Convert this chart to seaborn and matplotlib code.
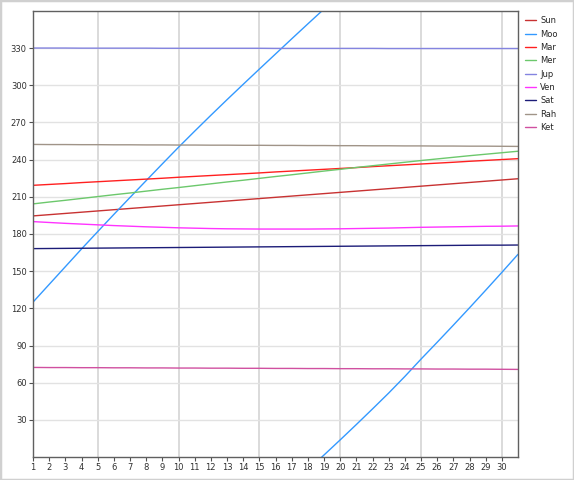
import numpy as np
import pandas as pd
import matplotlib
matplotlib.use("Agg")
import matplotlib.pyplot as plt
import seaborn as sns
from matplotlib.patches import Rectangle

days = list(range(1, 32))

sun = [194.6, 195.6, 196.6, 197.6, 198.6, 199.6, 200.6, 201.6, 202.6, 203.6,
       204.6, 205.6, 206.6, 207.6, 208.6, 209.6, 210.6, 211.6, 212.6, 213.6,
       214.6, 215.6, 216.6, 217.6, 218.6, 219.6, 220.6, 221.6, 222.6, 223.6, 224.6]
moon = [125.0, 139.3, 153.6, 167.9, 181.9, 195.8, 209.5, 223.1, 236.6, 250.0,
        263.0, 275.8, 288.4, 300.8, 313.1, 325.3, 337.5, 349.6, 361.6, 373.8,
        386.2, 398.8, 411.6, 425.0, 439.0, 452.6, 466.4, 480.4, 494.6, 509.0, 523.6]
mars = [219.3, 220.0, 220.7, 221.5, 222.2, 222.9, 223.6, 224.3, 225.0, 225.8,
        226.5, 227.2, 227.9, 228.6, 229.3, 230.1, 230.8, 231.5, 232.2, 232.9,
        233.6, 234.4, 235.1, 235.8, 236.5, 237.2, 237.9, 238.7, 239.4, 240.1, 240.8]
mercury = [204.3, 205.8, 207.2, 208.7, 210.2, 211.7, 213.1, 214.6, 216.1, 217.5,
           219.0, 220.5, 222.0, 223.4, 224.9, 226.4, 227.8, 229.3, 230.8, 232.2,
           233.7, 235.1, 236.5, 237.9, 239.3, 240.6, 241.9, 243.2, 244.4, 245.6, 246.8]
jupiter = [330.1, 330.1, 330.1, 330.0, 330.0, 330.0, 330.0, 330.0, 329.9, 329.9,
           329.9, 329.9, 329.9, 329.9, 329.9, 329.8, 329.8, 329.8, 329.8, 329.8,
           329.8, 329.8, 329.7, 329.7, 329.7, 329.7, 329.7, 329.7, 329.7, 329.7, 329.7]
venus = [190.0, 189.3, 188.6, 188.0, 187.4, 186.8, 186.3, 185.8, 185.4, 185.0,
         184.7, 184.4, 184.2, 184.1, 184.0, 184.0, 184.0, 184.0, 184.1, 184.2,
         184.4, 184.6, 184.8, 185.1, 185.4, 185.6, 185.8, 186.0, 186.2, 186.3, 186.5]
saturn = [168.2, 168.3, 168.4, 168.5, 168.6, 168.7, 168.8, 168.9, 169.0, 169.1,
          169.2, 169.3, 169.4, 169.5, 169.6, 169.7, 169.8, 169.9, 170.0, 170.1,
          170.2, 170.3, 170.4, 170.5, 170.6, 170.7, 170.8, 170.9, 171.0, 171.0, 171.1]
rahu = [252.3, 252.2, 252.2, 252.1, 252.1, 252.0, 252.0, 251.9, 251.9, 251.8,
        251.8, 251.7, 251.7, 251.6, 251.6, 251.5, 251.5, 251.4, 251.4, 251.3,
        251.3, 251.2, 251.2, 251.1, 251.1, 251.0, 251.0, 250.9, 250.9, 250.8, 250.7]
ketu = [r - 180.0 for r in rahu]

names = ["Sun", "Moo", "Mar", "Mer", "Jup", "Ven", "Sat", "Rah", "Ket"]
series = [sun, moon, mars, mercury, jupiter, venus, saturn, rahu, ketu]
colors = ["#c83232", "#3399ff", "#ff2020", "#6cc86c", "#8484e0",
          "#ff33ff", "#1c1c78", "#a09488", "#d050a0"]

yticks = [30, 60, 90, 120, 150, 180, 210, 240, 270, 300, 330]
xticks = list(range(1, 31))

sns.set_style("white")
plt.rcParams['font.family'] = ['DejaVu Sans']

fig = plt.figure(figsize=(5.74, 4.8), dpi=100)
ax = fig.add_axes([33/574, 1 - 457/480, (518-33)/574, (457-11)/480])

for name, vals, col in zip(names, series, colors):
    df = pd.DataFrame({"day": days, "deg": vals})
    sns.lineplot(data=df, x="day", y="deg", color=col, lw=1.0, ax=ax, label=name)
    if name == "Moo":
        df2 = pd.DataFrame({"day": days, "deg": [v - 360 for v in vals]})
        sns.lineplot(data=df2, x="day", y="deg", color=col, lw=1.0, ax=ax,
                     label="_nolegend_")

ax.set_xlim(1, 31)
ax.set_ylim(0, 360)
ax.set_xticks(xticks)
ax.set_xticklabels([str(t) for t in xticks], fontsize=6)
ax.set_yticks(yticks)
ax.set_yticklabels([str(t) for t in yticks], fontsize=6)
ax.set_xlabel("")
ax.set_ylabel("")
ax.tick_params(axis="both", direction="out", length=3, width=0.8,
               color="#505050", labelcolor="#303030", pad=1.5,
               bottom=True, left=True)

for d in [5, 10, 15, 20, 25, 30]:
    ax.axvline(d, color="#dadada", lw=1.4, zorder=0)
for t in yticks:
    ax.axhline(t, color="#e2e2e2", lw=1.0, zorder=0)

for s in ax.spines.values():
    s.set_color("#606060")
    s.set_linewidth(1.0)

ax.get_legend().remove()
handles, labels = ax.get_legend_handles_labels()
fig.legend(handles, labels, loc="upper left", bbox_to_anchor=(0.909, 0.973),
           frameon=False, fontsize=6, handlelength=1.3, labelspacing=0.52,
           handletextpad=0.5, borderaxespad=0)

fig.patches.append(Rectangle((0, 0), 1, 1, transform=fig.transFigure,
                             fill=False, edgecolor="#d0d0d0", lw=2.5))

fig.savefig("out.png", dpi=100)
